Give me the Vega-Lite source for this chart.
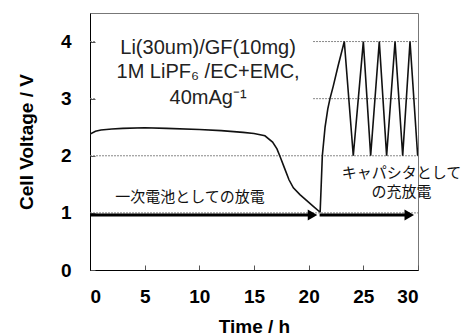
{
  "$schema": "https://vega.github.io/schema/vega-lite/v6.json",
  "width": 328,
  "height": 257,
  "autosize": "none",
  "padding": {"left": 90, "top": 13, "right": 45, "bottom": 65},
  "config": {
    "view": {"stroke": "#777", "strokeWidth": 1},
    "font": "Liberation Sans"
  },
  "layer": [
    {
      "data": {"values": [
        {"y": 1, "x1": 0, "x2": 30},
        {"y": 2, "x1": 0, "x2": 30},
        {"y": 3, "x1": 0, "x2": 0.5},
        {"y": 3, "x1": 20.4, "x2": 30},
        {"y": 4, "x1": 0, "x2": 0.5},
        {"y": 4, "x1": 20.4, "x2": 30}
      ]},
      "mark": {"type": "rule", "color": "#888", "strokeWidth": 1, "strokeDash": [2, 1]},
      "encoding": {
        "x": {"field": "x1", "type": "quantitative"},
        "x2": {"field": "x2"},
        "y": {"field": "y", "type": "quantitative"}
      }
    },
    {
      "data": {"values": [
        {"t": 0, "v": 2.9, "o": 1},
        {"t": 0.02, "v": 2.38, "o": 2},
        {"t": 0.5, "v": 2.43, "o": 3},
        {"t": 1, "v": 2.45, "o": 4},
        {"t": 2, "v": 2.47, "o": 5},
        {"t": 3, "v": 2.48, "o": 6},
        {"t": 5, "v": 2.49, "o": 7},
        {"t": 7, "v": 2.48, "o": 8},
        {"t": 10, "v": 2.46, "o": 9},
        {"t": 12, "v": 2.44, "o": 10},
        {"t": 14, "v": 2.41, "o": 11},
        {"t": 15, "v": 2.39, "o": 12},
        {"t": 16, "v": 2.35, "o": 13},
        {"t": 16.7, "v": 2.24, "o": 14},
        {"t": 17.1, "v": 2.12, "o": 15},
        {"t": 17.4, "v": 1.98, "o": 16},
        {"t": 17.8, "v": 1.78, "o": 17},
        {"t": 18.2, "v": 1.58, "o": 18},
        {"t": 18.6, "v": 1.44, "o": 19},
        {"t": 19.2, "v": 1.32, "o": 20},
        {"t": 19.8, "v": 1.22, "o": 21},
        {"t": 20.4, "v": 1.12, "o": 22},
        {"t": 21.0, "v": 1.02, "o": 23},
        {"t": 21.05, "v": 1.02, "o": 24},
        {"t": 21.15, "v": 1.5, "o": 25},
        {"t": 21.25, "v": 2.0, "o": 26},
        {"t": 21.5, "v": 2.5, "o": 27},
        {"t": 21.75, "v": 2.82, "o": 28},
        {"t": 21.95, "v": 3.0, "o": 29},
        {"t": 22.25, "v": 3.22, "o": 30},
        {"t": 22.7, "v": 3.58, "o": 31},
        {"t": 23.26, "v": 4.0, "o": 32},
        {"t": 24.08, "v": 2.0, "o": 33},
        {"t": 25.0, "v": 4.0, "o": 34},
        {"t": 25.67, "v": 2.0, "o": 35},
        {"t": 26.46, "v": 4.0, "o": 36},
        {"t": 27.13, "v": 2.0, "o": 37},
        {"t": 27.9, "v": 4.0, "o": 38},
        {"t": 28.6, "v": 2.0, "o": 39},
        {"t": 29.27, "v": 4.0, "o": 40},
        {"t": 29.97, "v": 2.0, "o": 41}
      ]},
      "mark": {"type": "line", "color": "#111", "strokeWidth": 1.6, "clip": true},
      "encoding": {
        "x": {
          "field": "t", "type": "quantitative",
          "scale": {"domain": [0, 30], "nice": false, "zero": false},
          "axis": {
            "values": [0, 5, 10, 15, 20, 25, 30],
            "title": "Time / h",
            "grid": false,
            "domainColor": "#000",
            "tickColor": "#555",
            "tickSize": -5,
            "labelFont": "Liberation Sans",
            "labelFontSize": 19,
            "labelFontWeight": "bold",
            "labelColor": "#000",
            "labelPadding": 22,
            "titleFont": "Liberation Sans",
            "titleFontSize": 19,
            "titleFontWeight": "bold",
            "titleColor": "#000",
            "titlePadding": 11
          }
        },
        "y": {
          "field": "v", "type": "quantitative",
          "scale": {"domain": [0, 4.5], "nice": false, "zero": false},
          "axis": {
            "values": [0, 0.5, 1, 1.5, 2, 2.5, 3, 3.5, 4],
            "labelExpr": "datum.value % 1 == 0 ? format(datum.value, 'd') : ''",
            "title": "Cell Voltage / V",
            "grid": false,
            "domainColor": "#000",
            "tickColor": "#555",
            "tickSize": -5,
            "labelFont": "Liberation Sans",
            "labelFontSize": 19,
            "labelFontWeight": "bold",
            "labelColor": "#000",
            "labelPadding": 24,
            "titleFont": "Liberation Sans",
            "titleFontSize": 19,
            "titleFontWeight": "bold",
            "titleColor": "#000",
            "titlePadding": 24
          }
        },
        "order": {"field": "o", "type": "quantitative"}
      }
    },
    {
      "data": {"values": [
        {"x1": 0, "x2": 20.4, "y": 0.965},
        {"x1": 21.0, "x2": 29.2, "y": 0.965}
      ]},
      "mark": {"type": "rule", "color": "#000", "strokeWidth": 3},
      "encoding": {
        "x": {"field": "x1", "type": "quantitative"},
        "x2": {"field": "x2"},
        "y": {"field": "y", "type": "quantitative"}
      }
    },
    {
      "data": {"values": [
        {"x": 20.35, "y": 0.965},
        {"x": 29.2, "y": 0.965}
      ]},
      "mark": {"type": "point", "shape": "triangle-right", "filled": true, "color": "#000", "size": 121, "opacity": 1},
      "encoding": {
        "x": {"field": "x", "type": "quantitative"},
        "y": {"field": "y", "type": "quantitative"}
      }
    },
    {
      "data": {"values": [
        {"x": 10.8, "y": 3.88, "label": "Li(30um)/GF(10mg)"},
        {"x": 10.8, "y": 3.46, "label": "1M LiPF₆ /EC+EMC,"},
        {"x": 10.8, "y": 3.02, "label": "40mAg⁻¹"}
      ]},
      "mark": {"type": "text", "font": "Liberation Sans", "fontSize": 20, "color": "#222", "align": "center", "baseline": "middle"},
      "encoding": {
        "x": {"field": "x", "type": "quantitative"},
        "y": {"field": "y", "type": "quantitative"},
        "text": {"field": "label"}
      }
    },
    {
      "data": {"values": [
        {"x": 9.15, "y": 1.28, "label": "一次電池としての放電"},
        {"x": 28.5, "y": 1.7, "label": "キャパシタとして"},
        {"x": 28.5, "y": 1.36, "label": "の充放電"}
      ]},
      "mark": {"type": "text", "font": "Noto Sans CJK JP", "fontSize": 15, "color": "#111", "align": "center", "baseline": "middle", "clip": false},
      "encoding": {
        "x": {"field": "x", "type": "quantitative"},
        "y": {"field": "y", "type": "quantitative"},
        "text": {"field": "label"}
      }
    }
  ]
}
